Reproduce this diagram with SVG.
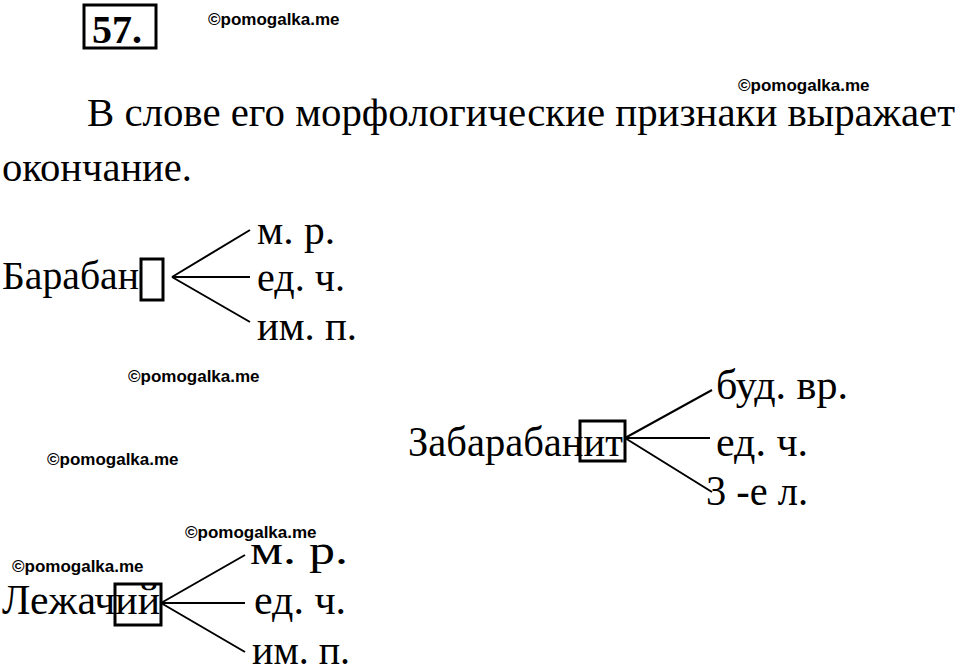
<svg xmlns="http://www.w3.org/2000/svg" width="960" height="672" viewBox="0 0 960 672">
<style>
.t{font-family:"Liberation Serif",serif;font-size:40px;fill:#000}
.n{font-family:"Liberation Serif",serif;font-size:42px;fill:#000}
.w{font-family:"Liberation Sans",sans-serif;font-weight:bold;font-size:17px;fill:#000}
.b{fill:none;stroke:#000;stroke-width:3}
.c{stroke:#000;stroke-width:2;fill:none}
</style>
<rect width="960" height="672" fill="#fff"/>
<g id="title"><rect class="b" x="84" y="5" width="72" height="43"/><text x="92" y="43" style="font-family:'Liberation Serif',serif;font-weight:bold;font-size:40px">57.</text></g>
<g id="watermarks">
<text class="w" x="208" y="25">©pomogalka.me</text>
<text class="w" x="738" y="91">©pomogalka.me</text>
<text class="w" x="128" y="382">©pomogalka.me</text>
<text class="w" x="47" y="465">©pomogalka.me</text>
<text class="w" x="185" y="538">©pomogalka.me</text>
<text class="w" x="12" y="572">©pomogalka.me</text>
</g>
<g id="para">
<text class="t" x="87" y="126" textLength="868" lengthAdjust="spacingAndGlyphs">В слове его морфологические признаки выражает</text>
<text class="t" x="2" y="181" textLength="190" lengthAdjust="spacingAndGlyphs">окончание.</text>
</g>
<g id="baraban">
<text class="t" x="2" y="289" textLength="137" lengthAdjust="spacingAndGlyphs">Барабан</text>
<rect class="b" x="141" y="259" width="22" height="41"/>
<text class="t" x="257" y="244" textLength="78" lengthAdjust="spacingAndGlyphs">м. р.</text>
<text class="t" x="257" y="291" textLength="88" lengthAdjust="spacingAndGlyphs">ед. ч.</text>
<text class="t" x="257" y="340" textLength="100" lengthAdjust="spacingAndGlyphs">им. п.</text>
</g>
<g id="zabarabanit">
<text class="n" x="408" y="456" textLength="215" lengthAdjust="spacingAndGlyphs">Забарабанит</text>
<rect class="b" x="580" y="421" width="45" height="40"/>
<text class="n" x="716" y="399" textLength="132" lengthAdjust="spacingAndGlyphs">буд. вр.</text>
<text class="n" x="716" y="456" textLength="92" lengthAdjust="spacingAndGlyphs">ед. ч.</text>
<text class="n" x="706" y="505" textLength="102" lengthAdjust="spacingAndGlyphs">3 -е л.</text>
</g>
<g id="lezhachiy">
<text class="n" x="2" y="614" textLength="158" lengthAdjust="spacingAndGlyphs">Лежачий</text>
<rect class="b" x="115" y="584" width="46" height="41"/>
<text class="n" x="250" y="564" textLength="98" lengthAdjust="spacingAndGlyphs">м. р.</text>
<text class="n" x="254" y="614" textLength="92" lengthAdjust="spacingAndGlyphs">ед. ч.</text>
<text class="n" x="252" y="664" textLength="98" lengthAdjust="spacingAndGlyphs">им. п.</text>
</g>
<g id="connectors">
<path class="c" d="M172 277L250 230M172 277H250M172 277L250 322"/>
<path class="c" d="M625 438L712 390M625 438H710M625 438L712 492"/>
<path class="c" d="M161 603L245 555M161 603H245M161 603L245 652"/>
</g>
</svg>
